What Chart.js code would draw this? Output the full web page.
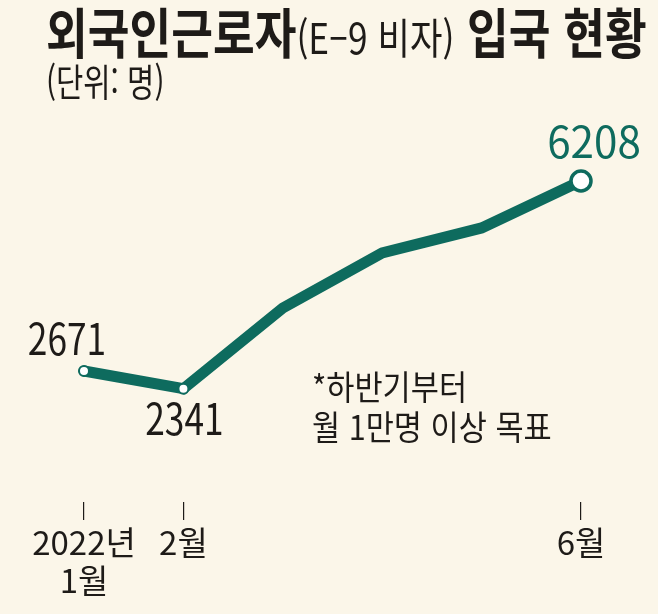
<!DOCTYPE html>
<html lang="ko">
<head>
<meta charset="utf-8">
<script src="https://cdn.jsdelivr.net/npm/chart.js@4.4.1/dist/chart.umd.min.js"></script>
<style>
  body { margin: 0; background: #fbf6e9; }
  #wrap { position: relative; width: 658px; height: 614px; overflow: hidden; background: #fbf6e9; }
  #chart { position: absolute; left: 0; top: 0; }
  .txt { position: absolute; font-family: "Noto Sans CJK KR", sans-serif; color: #1e1b18; white-space: nowrap; transform-origin: left top; }
  .title { left: 46px; top: 4px; font-size: 54px; line-height: 1; font-weight: 700; transform: scaleX(0.84); }
  .title .sub { font-size: 42px; font-weight: 400; }
  .unit { left: 46px; top: 61px; font-size: 38px; line-height: 1; transform: scaleX(0.78); }
  .note { left: 312px; top: 366px; font-size: 34px; line-height: 40px; transform: scaleX(0.9); }
</style>
</head>
<body>
<div id="wrap">
  <canvas id="chart" width="658" height="614"></canvas>
  <div class="txt title">외국인근로자<span class="sub">(E–9 비자)</span> 입국 현황</div>
  <div class="txt unit">(단위: 명)</div>
  <div class="txt note">*하반기부터<br>월 1만명 이상 목표</div>
</div>
<script>
const months = ['2022년 1월', '2월', '3월', '4월', '5월', '6월'];
const tickText = [['2022년', '1월'], '2월', '', '', '', '6월'];
const arrivals = [2671, 2341, 3844, 4868, 5334, 6208];
const labelled = [0, 1, 5];

const teal = '#0e6b5e';
const ink = '#1e1b18';

// value labels drawn next to the marked points
const valueLabels = {
    id: 'valueLabels',
    afterDatasetsDraw(chart) {
        const ctx = chart.ctx;
        const pts = chart.getDatasetMeta(0).data;
        const place = {
            0: { dx: -17, dy: -16, color: ink, sx: 0.82 },
            1: { dx: 1, dy: 46, color: ink, sx: 0.82 },
            5: { dx: 13, dy: -23, color: teal, sx: 0.98 }
        };
        for (const i of labelled) {
            const p = place[i];
            ctx.save();
            ctx.translate(pts[i].x + p.dx, pts[i].y + p.dy);
            ctx.scale(p.sx, 1);
            ctx.font = '43px "Noto Sans CJK KR", sans-serif';
            ctx.fillStyle = p.color;
            ctx.textAlign = 'center';
            ctx.textBaseline = 'alphabetic';
            ctx.fillText(String(arrivals[i]), 0, 0);
            ctx.restore();
        }
    }
};

document.addEventListener('DOMContentLoaded', function () {
    const ctx = document.getElementById('chart').getContext('2d');
    new Chart(ctx, {
        type: 'line',
        data: {
            labels: months,
            datasets: [{
                data: arrivals,
                borderColor: teal,
                borderWidth: 11,
                borderCapStyle: 'round',
                borderJoinStyle: 'miter',
                tension: 0,
                clip: false,
                pointRadius: (c) => c.dataIndex === 5 ? 10 : (c.dataIndex < 2 ? 5 : 0),
                pointBorderWidth: (c) => c.dataIndex === 5 ? 3.5 : 2,
                pointBackgroundColor: '#ffffff',
                pointBorderColor: teal
            }]
        },
        options: {
            responsive: false,
            animation: false,
            events: [],
            layout: { autoPadding: false, padding: { left: 84, right: 77, top: 120, bottom: 0 } },
            plugins: { legend: { display: false }, tooltip: { enabled: false } },
            scales: {
                x: {
                    offset: false,
                    border: { display: false },
                    grid: {
                        drawOnChartArea: false,
                        drawTicks: true,
                        tickLength: 18,
                        lineWidth: 1.2,
                        color: (c) => labelled.includes(c.index) ? ink : 'rgba(0,0,0,0)'
                    },
                    ticks: {
                        autoSkip: false,
                        maxRotation: 0,
                        padding: 4,
                        color: ink,
                        font: { family: '"Noto Sans CJK KR", sans-serif', size: 33, lineHeight: 1.14 },
                        callback: (v, i) => tickText[i]
                    },
                    afterFit: (axis) => { axis.height = 112; }
                },
                y: {
                    display: false,
                    min: 232,
                    max: 7343
                }
            }
        },
        plugins: [valueLabels]
    });
});
</script>
</body>
</html>
